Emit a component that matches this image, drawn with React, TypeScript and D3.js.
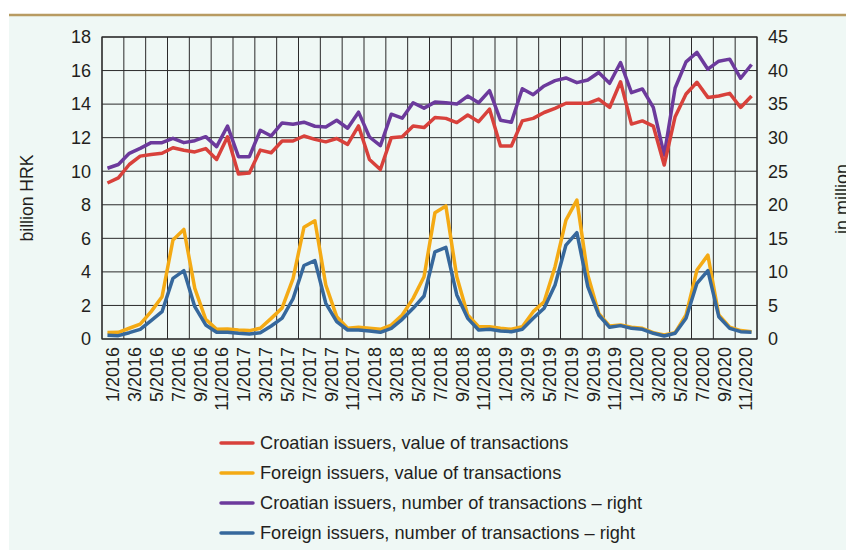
import React from "react";
import * as d3 from "d3";

const months: string[] = [];
for (let y = 2016; y <= 2020; y++) for (let m = 1; m <= 12; m++) months.push(`${m}/${y}`);

const croValue = [
  9.3, 9.6, 10.4, 10.9, 11.0, 11.07, 11.4, 11.25, 11.15, 11.35, 10.7, 12.05,
  9.83, 9.9, 11.26, 11.1, 11.8, 11.8, 12.1, 11.9, 11.75, 11.95, 11.6, 12.7,
  10.7, 10.1, 12.0, 12.05, 12.7, 12.6, 13.2, 13.15, 12.9, 13.35, 12.95, 13.7,
  11.5, 11.5, 13.0, 13.15, 13.5, 13.75, 14.05, 14.05, 14.05, 14.3, 13.8, 15.33,
  12.81, 13.0, 12.69, 10.37, 13.25, 14.6, 15.3, 14.4, 14.48, 14.64, 13.8, 14.48,
];
const forValue = [
  0.38, 0.4, 0.64, 0.89, 1.63, 2.52, 5.9, 6.53, 3.02, 1.17, 0.58, 0.6,
  0.54, 0.5, 0.64, 1.23, 1.85, 3.6, 6.66, 7.05, 3.22, 1.33, 0.64, 0.7,
  0.64, 0.58, 0.83, 1.43, 2.42, 3.71, 7.53, 7.93, 3.71, 1.43, 0.73, 0.73,
  0.64, 0.58, 0.73, 1.63, 2.22, 4.31, 7.09, 8.28, 3.81, 1.53, 0.77, 0.83,
  0.7, 0.64, 0.38, 0.24, 0.38, 1.43, 4.11, 5.0, 1.43, 0.7, 0.5, 0.44,
];
const croNumber = [
  25.44, 26.0, 27.67, 28.4, 29.26, 29.26, 29.9, 29.26, 29.55, 30.15, 28.66, 31.74,
  27.17, 27.17, 31.1, 30.25, 32.2, 32.0, 32.3, 31.7, 31.6, 32.6, 31.4, 33.8,
  30.1, 28.8, 33.5, 32.9, 35.2, 34.4, 35.3, 35.2, 35.0, 36.2, 35.2, 37.0,
  32.6, 32.3, 37.3, 36.4, 37.7, 38.5, 38.9, 38.2, 38.6, 39.7, 38.1, 41.2,
  36.7, 37.26, 34.5, 27.4, 37.4, 41.3, 42.7, 40.2, 41.4, 41.7, 38.85, 40.9,
];
const forNumber = [
  0.55, 0.5, 0.94, 1.44, 2.73, 4.07, 9.04, 10.18, 4.81, 2.09, 1.0, 1.0,
  0.85, 0.75, 0.94, 1.94, 3.1, 6.0, 10.95, 11.67, 5.32, 2.58, 1.34, 1.34,
  1.19, 1.0, 1.59, 2.93, 4.57, 6.41, 13.0, 13.66, 6.56, 3.08, 1.34, 1.44,
  1.19, 1.09, 1.44, 3.08, 4.57, 8.05, 14.0, 15.84, 7.8, 3.58, 1.74, 1.99,
  1.59, 1.44, 0.85, 0.45, 0.85, 3.08, 8.3, 10.18, 3.32, 1.59, 1.09, 1.0,
];

const leftTicks = [0, 2, 4, 6, 8, 10, 12, 14, 16, 18];
const rightTicks = [0, 5, 10, 15, 20, 25, 30, 35, 40, 45];

const legendItems = [
  { label: "Croatian issuers, value of transactions", color: "#d8413b" },
  { label: "Foreign issuers, value of transactions", color: "#f4aa14" },
  { label: "Croatian issuers, number of transactions – right", color: "#6c3a9c" },
  { label: "Foreign issuers, number of transactions – right", color: "#36689c" },
];

const W = 846;
const H = 550;
const L = 102, R = 757, T = 37, B = 339;
const FONT = "'Liberation Sans', Arial, sans-serif";

export default function App() {
  const x = d3.scaleBand<number>().domain(d3.range(months.length)).range([L, R]);
  const yL = d3.scaleLinear().domain([0, 18]).range([B, T]);
  const yR = d3.scaleLinear().domain([0, 45]).range([B, T]);
  const cx = (i: number) => (x(i) as number) + x.bandwidth() / 2;

  const lineL = d3.line<number>().x((_, i) => cx(i)).y((d) => yL(d));
  const lineR = d3.line<number>().x((_, i) => cx(i)).y((d) => yR(d));

  const vGrid = d3.range(0, months.length + 1, 2).map((i) => L + i * x.bandwidth());

  const series = [
    { d: lineR(croNumber), c: legendItems[2].color },
    { d: lineL(croValue), c: legendItems[0].color },
    { d: lineL(forValue), c: legendItems[1].color },
    { d: lineR(forNumber), c: legendItems[3].color },
  ];

  return (
    <svg width={W} height={H} style={{ position: "absolute", left: 0, top: 0 }} fontFamily={FONT}>
      <rect x={0} y={0} width={W} height={H} fill="#ffffff" />
      <rect x={9} y={15} width={W - 9} height={H - 15} fill="#eff8f5" />
      <line x1={9} x2={W} y1={15} y2={15} stroke="#b89b62" strokeWidth={2.5} />

      {/* grid */}
      {leftTicks.map((t) => (
        <line key={"h" + t} x1={L} x2={R} y1={yL(t)} y2={yL(t)} stroke="#2a2a2a" strokeWidth={1} />
      ))}
      {vGrid.map((gx, k) => (
        <line key={"v" + k} x1={gx} x2={gx} y1={T} y2={B} stroke="#2a2a2a" strokeWidth={1} />
      ))}
      <rect x={L} y={T} width={R - L} height={B - T} fill="none" stroke="#2a2a2a" strokeWidth={1.2} />

      {/* series */}
      {series.map((s, i) => (
        <path key={i} d={s.d || ""} fill="none" stroke={s.c} strokeWidth={3.5} strokeLinejoin="round" />
      ))}

      {/* left ticks */}
      {leftTicks.map((t) => (
        <text key={"lt" + t} x={91} y={yL(t)} dy="0.35em" textAnchor="end" fontSize={18} fill="#231f20">
          {t}
        </text>
      ))}
      {rightTicks.map((t) => (
        <text key={"rt" + t} x={768} y={yR(t)} dy="0.35em" textAnchor="start" fontSize={18} fill="#231f20">
          {t}
        </text>
      ))}

      {/* x labels */}
      {months.map((m, i) =>
        i % 2 === 0 ? (
          <text
            key={"x" + i}
            transform={`translate(${(x(i) as number) + x.bandwidth()},347) rotate(-90)`}
            dy="0.35em"
            textAnchor="end"
            fontSize={18}
            fill="#231f20"
          >
            {m}
          </text>
        ) : null
      )}

      {/* axis titles */}
      <text transform={`translate(33,198) rotate(-90)`} textAnchor="middle" fontSize={17.6} fill="#231f20">
        billion HRK
      </text>
      <text transform={`translate(848,199) rotate(-90)`} textAnchor="middle" fontSize={18} fill="#231f20">
        in million
      </text>

      {/* legend */}
      {legendItems.map((it, k) => (
        <g key={"lg" + k} transform={`translate(0,${443 + k * 30})`}>
          <line x1={221} x2={253} y1={0} y2={0} stroke={it.color} strokeWidth={3.5} strokeLinecap="round" />
          <text x={260} y={0} dy="0.35em" fontSize={18.2} fill="#231f20">
            {it.label}
          </text>
        </g>
      ))}
    </svg>
  );
}
